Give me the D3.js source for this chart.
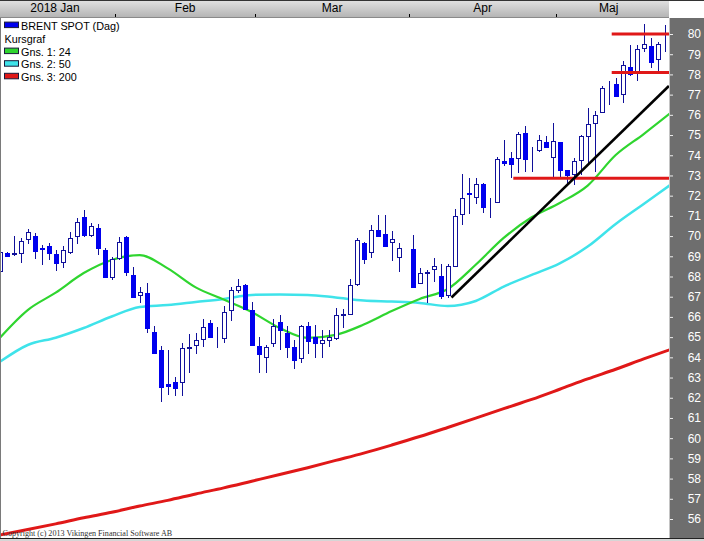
<!DOCTYPE html>
<html><head><meta charset="utf-8">
<script src="https://cdn.jsdelivr.net/npm/d3@7"></script>
<style>
html,body{margin:0;padding:0;background:#fff;}
svg{display:block;}
</style></head>
<body>
<svg id="c" width="704" height="541"></svg>
<script>
// ---- DATA (daily candles, index 0 = leftmost partially visible day; null = holiday gap) ----
const open  = [68.27,69.15,69.10,69.15,69.84,70.00,69.42,69.51,69.11,68.74,69.23,70.00,70.96,70.04,70.39,69.31,67.96,68.90,69.94,68.08,67.10,67.17,65.24,64.36,62.68,62.77,62.80,64.47,64.60,64.89,65.71,65.04,64.94,66.34,67.33,67.58,66.34,64.56,64.03,64.73,65.74,65.22,64.50,63.95,65.55,64.99,64.73,64.86,64.94,66.08,66.13,67.63,69.67,69.20,70.30,70.10,69.72,68.98,null,69.35,67.70,68.18,68.36,68.04,67.09,68.52,71.08,72.14,71.92,72.58,71.70,71.67,73.73,73.84,73.85,75.09,74.02,74.25,74.64,73.90,74.64,73.27,73.07,73.77,74.97,75.58,76.13,77.42,77.51,77.05,78.38,78.13,79.29,79.42,78.76,79.37];
const high  = [69.30,69.20,70.00,69.89,70.34,70.14,69.56,69.64,69.31,69.51,70.19,70.88,71.29,70.63,70.60,69.40,68.98,69.94,70.00,68.46,67.50,67.70,65.57,64.58,64.36,63.04,64.70,65.16,65.19,65.88,65.85,65.52,66.54,67.47,67.86,67.63,66.75,64.99,64.61,65.88,66.10,65.55,64.86,65.60,65.77,65.60,65.35,65.35,66.43,66.38,67.86,69.89,69.72,70.55,71.04,71.04,70.27,69.64,null,70.05,68.41,68.32,68.90,68.62,68.62,71.33,73.07,72.86,72.86,72.64,71.87,73.90,74.76,74.18,75.14,75.45,74.42,75.00,74.97,75.61,74.67,73.27,73.85,75.00,76.32,76.19,77.43,77.67,77.81,78.66,79.46,79.46,80.48,79.82,79.59,80.45];
const low   = [68.20,68.95,69.02,68.65,69.61,68.85,68.57,68.82,68.29,68.41,69.11,69.61,69.97,69.97,69.06,67.99,67.83,68.82,68.03,66.97,66.67,65.19,64.17,61.78,62.14,62.10,62.10,63.21,64.17,64.50,64.99,64.45,64.70,65.81,67.17,66.34,64.61,63.21,63.21,64.50,64.36,63.99,63.41,63.70,64.17,63.99,63.99,64.50,64.86,65.44,66.10,67.53,68.62,68.90,70.00,69.50,68.78,68.24,null,67.47,67.63,66.67,67.75,66.87,66.92,68.49,70.55,71.09,71.59,71.13,70.88,71.67,73.47,72.86,73.14,73.16,73.19,74.18,74.37,72.86,72.86,72.53,72.53,73.02,73.52,73.16,76.13,76.49,76.95,76.57,77.94,77.67,79.12,78.30,78.13,79.12];
const close = [69.21,69.02,69.14,69.77,70.19,69.28,69.38,69.15,68.68,69.31,69.89,70.71,70.05,70.50,69.40,67.99,68.85,69.69,68.21,66.97,67.22,65.44,64.20,62.55,62.60,62.47,64.45,64.52,64.86,65.52,65.02,65.08,66.23,67.33,67.53,66.38,64.61,64.17,64.50,65.55,65.35,64.50,63.87,65.55,64.83,64.70,64.86,64.99,66.10,66.12,67.58,69.81,68.85,70.30,70.02,69.51,69.84,69.40,null,67.47,68.16,68.22,68.52,67.04,68.52,71.00,71.87,72.10,72.58,71.45,71.68,73.80,73.60,73.57,75.04,73.82,74.00,74.74,74.39,74.70,73.27,73.02,73.72,74.95,75.53,76.00,77.34,77.44,76.95,78.47,78.00,79.26,79.49,78.63,79.49,79.38];

// moving averages at every 4th day
const maDays = [0,4,8,12,16,20,24,28,32,36,40,44,48,52,56,60,64,68,72,76,80,84,88,92,96];
const ma24  = [64.96,66.34,67.20,68.17,68.82,69.06,68.40,67.46,66.86,66.24,65.45,64.96,65.11,65.62,66.29,66.89,67.38,68.58,69.91,70.93,71.64,72.50,74.01,75.05,76.14];
const ma50  = [63.77,64.61,64.97,65.45,66.02,66.49,66.59,66.74,66.89,67.09,67.11,67.09,66.96,66.81,66.76,66.69,66.54,66.79,67.50,68.08,68.65,69.48,70.60,71.59,72.58];
const ma200 = [55.21,55.48,55.76,56.06,56.33,56.64,56.92,57.24,57.54,57.87,58.20,58.54,58.90,59.26,59.66,60.08,60.53,60.99,61.46,61.92,62.42,62.93,63.41,63.92,64.41];

// drawn annotations: [dayFrom, priceFrom, dayTo, priceTo]
const trendLine = [64.54, 66.96, 95.6, 77.43];
const levelLines = [[87.43, 80.00], [87.43, 78.10], [73.37, 72.86]];

// axis labels
const priceTicks = d3.range(56, 81);
const monthLabels = ["2018 Jan", "Feb", "Mar", "Apr", "Maj"];
const monthLabelDay = [7.9, 26.5, 47.5, 69, 87];
const monthBounds = [16.5, 36.5, 58.5, 79.5];

const legendItems = [
  {label: "BRENT SPOT (Dag)", color: "#0000ee"},
  {label: "Kursgraf", color: null},
  {label: "Gns. 1: 24", color: "#2fd52f"},
  {label: "Gns. 2: 50", color: "#3fe3ea"},
  {label: "Gns. 3: 200", color: "#e01818"}
];

// ---- LAYOUT ----
const W = 704, H = 541;
const plotL = 0, plotR = 669, plotT = 18, plotB = 538;
const svg = d3.select("#c");
const x = d3.scaleLinear().domain([0, 95]).range([-0.3, 664.7]);
const y = d3.scaleLinear().domain([56, 80]).range([519, 34]);
const FONT = "'Liberation Sans Narrow','Arial Narrow','Liberation Sans',Arial,sans-serif";

const defs = svg.append("defs");
defs.append("clipPath").attr("id", "plotclip").append("rect")
  .attr("x", plotL + 1).attr("y", plotT).attr("width", plotR - plotL - 1).attr("height", plotB - plotT);
const grad = defs.append("linearGradient").attr("id", "topgrad").attr("x1", 0).attr("y1", 0).attr("x2", 0).attr("y2", 1);
grad.append("stop").attr("offset", "0%").attr("stop-color", "#e2e2e2");
grad.append("stop").attr("offset", "100%").attr("stop-color", "#b2b2b2");

svg.append("rect").attr("width", W).attr("height", H).attr("fill", "#fff");

// top time bar
svg.append("rect").attr("x", 0).attr("y", 0).attr("width", plotR).attr("height", plotT).attr("fill", "url(#topgrad)");
svg.append("line").attr("x1", 0).attr("x2", W).attr("y1", 0.5).attr("y2", 0.5).attr("stroke", "#333");
svg.append("line").attr("x1", 0).attr("x2", plotR).attr("y1", plotT - 0.5).attr("y2", plotT - 0.5).attr("stroke", "#8a8a8a");

const topAxis = svg.append("g").attr("transform", `translate(0,${plotT - 1})`)
  .call(d3.axisTop(x).tickValues(monthBounds).tickSize(3).tickFormat(""));
topAxis.select(".domain").remove();
topAxis.selectAll(".tick line").attr("stroke", "#000").attr("shape-rendering", "crispEdges");

svg.append("g").selectAll("text").data(monthLabels).join("text")
  .attr("x", (d, i) => x(monthLabelDay[i])).attr("y", 11.5)
  .attr("text-anchor", "middle").attr("font-family", FONT).attr("font-size", "12px").attr("fill", "#000")
  .text(d => d);

// right price panel
svg.append("rect").attr("x", plotR).attr("y", plotT).attr("width", W - plotR).attr("height", plotB - plotT).attr("fill", "#6e6e6e");
svg.append("line").attr("x1", plotR + 0.5).attr("x2", plotR + 0.5).attr("y1", plotT).attr("y2", plotB).attr("stroke", "#c4c4c4");

const yAxis = svg.append("g").attr("transform", `translate(${plotR + 1},0)`)
  .call(d3.axisRight(y).tickValues(priceTicks).tickSize(3).tickFormat(d3.format("d")));
yAxis.select(".domain").remove();
yAxis.selectAll(".tick line").attr("stroke", "#eee");
yAxis.selectAll(".tick text").attr("x", 31).attr("text-anchor", "end").attr("fill", "#fff")
  .attr("font-family", FONT).attr("font-size", "12px");

// borders
svg.append("line").attr("x1", 0.5).attr("x2", 0.5).attr("y1", plotT).attr("y2", plotB).attr("stroke", "#7a7a7a");
svg.append("line").attr("x1", 0).attr("x2", W).attr("y1", plotB + 0.5).attr("y2", plotB + 0.5).attr("stroke", "#222");
svg.append("rect").attr("x", 0).attr("y", plotB + 1).attr("width", W).attr("height", H - plotB - 1).attr("fill", "#d6d6d6");

const plot = svg.append("g").attr("clip-path", "url(#plotclip)");

// moving averages
const maLine = vals => d3.line().x((d, i) => x(maDays[i])).y(d => y(d)).curve(d3.curveMonotoneX)(vals);
plot.append("path").attr("d", maLine(ma200)).attr("fill", "none").attr("stroke", "#e01818").attr("stroke-width", 3);
plot.append("path").attr("d", maLine(ma50)).attr("fill", "none").attr("stroke", "#3fe3ea").attr("stroke-width", 2.5);
plot.append("path").attr("d", maLine(ma24)).attr("fill", "none").attr("stroke", "#2fd52f").attr("stroke-width", 2.2);

// candles
const days = d3.range(open.length).filter(i => open[i] !== null);
const WICK = "#10109a", FILL = "#0000ee";
const cg = plot.append("g").attr("shape-rendering", "crispEdges");
const cand = cg.selectAll("g").data(days).join("g");
cand.append("line")
  .attr("x1", i => Math.round(x(i)) + 0.5).attr("x2", i => Math.round(x(i)) + 0.5)
  .attr("y1", i => y(high[i])).attr("y2", i => y(low[i]))
  .attr("stroke", WICK).attr("stroke-width", 1);
cand.append("rect")
  .attr("x", i => Math.round(x(i)) - 1.5).attr("width", 4)
  .attr("y", i => Math.round(y(Math.max(open[i], close[i]))) + 0.5)
  .attr("height", i => Math.max(0, Math.round(y(Math.min(open[i], close[i]))) - Math.round(y(Math.max(open[i], close[i])))))
  .attr("fill", i => close[i] >= open[i] ? "#fff" : FILL)
  .attr("stroke", i => close[i] >= open[i] ? WICK : FILL).attr("stroke-width", 1);

// annotations
plot.selectAll(".lvl").data(levelLines).join("line").attr("class", "lvl")
  .attr("x1", d => x(d[0])).attr("x2", plotR).attr("y1", d => y(d[1])).attr("y2", d => y(d[1]))
  .attr("stroke", "#e01818").attr("stroke-width", 3);
plot.append("line")
  .attr("x1", x(trendLine[0])).attr("y1", y(trendLine[1])).attr("x2", x(trendLine[2])).attr("y2", y(trendLine[3]))
  .attr("stroke", "#000").attr("stroke-width", 2.6);

// legend
const LFONT = "'Liberation Sans',Arial,sans-serif";
const leg = svg.append("g");
const baselines = [29.6, 42.6, 55.6, 68.2, 80.8];
legendItems.forEach((d, i) => {
  if (d.color) {
    leg.append("rect").attr("x", 4.5).attr("y", baselines[i] - 7.5).attr("width", 14).attr("height", 5.5)
      .attr("fill", d.color).attr("stroke", "#1a1a3a").attr("stroke-width", 1);
  }
  leg.append("text").attr("x", d.color ? 21 : 4.5).attr("y", baselines[i])
    .attr("font-family", LFONT).attr("font-size", "10.8px").attr("fill", "#000").text(d.label);
});

// copyright
svg.append("text").attr("x", 2.5).attr("y", 535.5)
  .attr("font-family", "'Liberation Serif','Times New Roman',serif").attr("font-size", "8.1px").attr("fill", "#333")
  .text("Copyright (c) 2013 Vikingen Financial Software AB");
</script>
</body></html>
